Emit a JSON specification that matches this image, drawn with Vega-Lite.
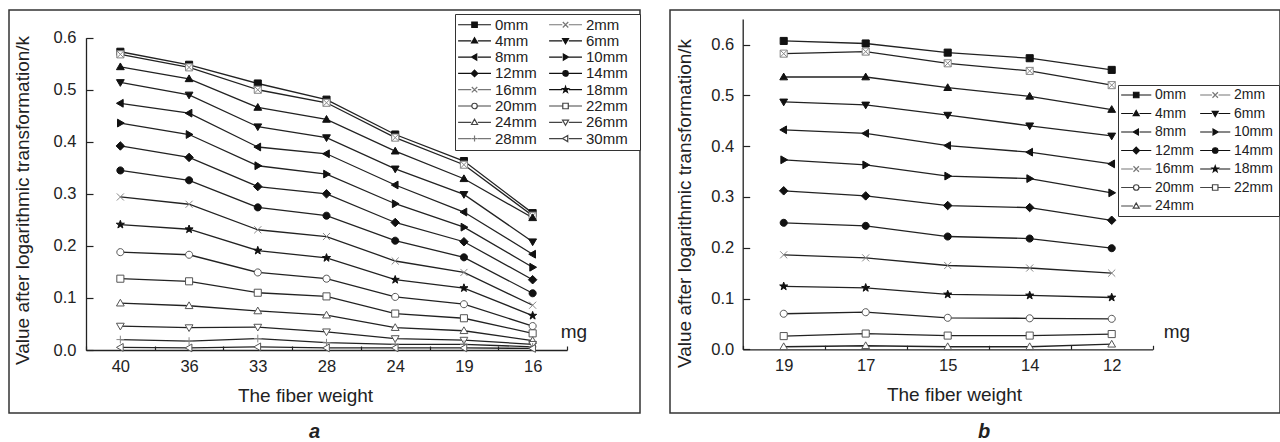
{
 "$schema": "https://vega.github.io/schema/vega-lite/v6.json",
 "padding": {"left": 8, "top": 9, "right": 0, "bottom": 0},
 "autosize": {"type": "pad"},
 "spacing": 30,
 "bounds": "flush",
 "config": {
  "font": "Liberation Sans",
  "view": {"stroke": "#333", "strokeWidth": 1.5},
  "axis": {"domainColor": "#222", "tickColor": "#222", "labelColor": "#222", "titleColor": "#222", "titleFontWeight": "normal", "grid": false, "domainWidth": 1.3, "tickWidth": 1.2, "labelFont": "Liberation Sans", "titleFont": "Liberation Sans"},
  "legend": {"labelFont": "Liberation Sans", "labelColor": "#222"},
  "title": {"font": "Liberation Sans", "color": "#222"}
 },
 "datasets": {
  "A": [
   {"s":"0mm","w":"40","v":0.573},{"s":"0mm","w":"36","v":0.548},{"s":"0mm","w":"33","v":0.512},{"s":"0mm","w":"28","v":0.481},{"s":"0mm","w":"24","v":0.414},{"s":"0mm","w":"19","v":0.363},{"s":"0mm","w":"16","v":0.263},
   {"s":"2mm","w":"40","v":0.568},{"s":"2mm","w":"36","v":0.543},{"s":"2mm","w":"33","v":0.500},{"s":"2mm","w":"28","v":0.475},{"s":"2mm","w":"24","v":0.408},{"s":"2mm","w":"19","v":0.356},{"s":"2mm","w":"16","v":0.258},
   {"s":"4mm","w":"40","v":0.544},{"s":"4mm","w":"36","v":0.521},{"s":"4mm","w":"33","v":0.466},{"s":"4mm","w":"28","v":0.443},{"s":"4mm","w":"24","v":0.382},{"s":"4mm","w":"19","v":0.329},{"s":"4mm","w":"16","v":0.254},
   {"s":"6mm","w":"40","v":0.514},{"s":"6mm","w":"36","v":0.490},{"s":"6mm","w":"33","v":0.429},{"s":"6mm","w":"28","v":0.408},{"s":"6mm","w":"24","v":0.348},{"s":"6mm","w":"19","v":0.299},{"s":"6mm","w":"16","v":0.208},
   {"s":"8mm","w":"40","v":0.474},{"s":"8mm","w":"36","v":0.455},{"s":"8mm","w":"33","v":0.390},{"s":"8mm","w":"28","v":0.377},{"s":"8mm","w":"24","v":0.317},{"s":"8mm","w":"19","v":0.265},{"s":"8mm","w":"16","v":0.184},
   {"s":"10mm","w":"40","v":0.436},{"s":"10mm","w":"36","v":0.414},{"s":"10mm","w":"33","v":0.354},{"s":"10mm","w":"28","v":0.338},{"s":"10mm","w":"24","v":0.281},{"s":"10mm","w":"19","v":0.236},{"s":"10mm","w":"16","v":0.159},
   {"s":"12mm","w":"40","v":0.392},{"s":"12mm","w":"36","v":0.370},{"s":"12mm","w":"33","v":0.314},{"s":"12mm","w":"28","v":0.300},{"s":"12mm","w":"24","v":0.245},{"s":"12mm","w":"19","v":0.208},{"s":"12mm","w":"16","v":0.135},
   {"s":"14mm","w":"40","v":0.345},{"s":"14mm","w":"36","v":0.326},{"s":"14mm","w":"33","v":0.274},{"s":"14mm","w":"28","v":0.258},{"s":"14mm","w":"24","v":0.210},{"s":"14mm","w":"19","v":0.178},{"s":"14mm","w":"16","v":0.109},
   {"s":"16mm","w":"40","v":0.294},{"s":"16mm","w":"36","v":0.280},{"s":"16mm","w":"33","v":0.231},{"s":"16mm","w":"28","v":0.218},{"s":"16mm","w":"24","v":0.171},{"s":"16mm","w":"19","v":0.149},{"s":"16mm","w":"16","v":0.086},
   {"s":"18mm","w":"40","v":0.241},{"s":"18mm","w":"36","v":0.232},{"s":"18mm","w":"33","v":0.191},{"s":"18mm","w":"28","v":0.177},{"s":"18mm","w":"24","v":0.135},{"s":"18mm","w":"19","v":0.119},{"s":"18mm","w":"16","v":0.066},
   {"s":"20mm","w":"40","v":0.188},{"s":"20mm","w":"36","v":0.183},{"s":"20mm","w":"33","v":0.149},{"s":"20mm","w":"28","v":0.137},{"s":"20mm","w":"24","v":0.102},{"s":"20mm","w":"19","v":0.088},{"s":"20mm","w":"16","v":0.046},
   {"s":"22mm","w":"40","v":0.137},{"s":"22mm","w":"36","v":0.132},{"s":"22mm","w":"33","v":0.110},{"s":"22mm","w":"28","v":0.103},{"s":"22mm","w":"24","v":0.070},{"s":"22mm","w":"19","v":0.061},{"s":"22mm","w":"16","v":0.032},
   {"s":"24mm","w":"40","v":0.090},{"s":"24mm","w":"36","v":0.085},{"s":"24mm","w":"33","v":0.075},{"s":"24mm","w":"28","v":0.067},{"s":"24mm","w":"24","v":0.043},{"s":"24mm","w":"19","v":0.037},{"s":"24mm","w":"16","v":0.018},
   {"s":"26mm","w":"40","v":0.046},{"s":"26mm","w":"36","v":0.043},{"s":"26mm","w":"33","v":0.044},{"s":"26mm","w":"28","v":0.035},{"s":"26mm","w":"24","v":0.022},{"s":"26mm","w":"19","v":0.019},{"s":"26mm","w":"16","v":0.011},
   {"s":"28mm","w":"40","v":0.020},{"s":"28mm","w":"36","v":0.017},{"s":"28mm","w":"33","v":0.022},{"s":"28mm","w":"28","v":0.014},{"s":"28mm","w":"24","v":0.011},{"s":"28mm","w":"19","v":0.011},{"s":"28mm","w":"16","v":0.006},
   {"s":"30mm","w":"40","v":0.005},{"s":"30mm","w":"36","v":0.004},{"s":"30mm","w":"33","v":0.006},{"s":"30mm","w":"28","v":0.004},{"s":"30mm","w":"24","v":0.004},{"s":"30mm","w":"19","v":0.004},{"s":"30mm","w":"16","v":0.003}
  ],
  "B": [
   {"s":"0mm","w":"19","v":0.607},{"s":"0mm","w":"17","v":0.602},{"s":"0mm","w":"15","v":0.584},{"s":"0mm","w":"14","v":0.573},{"s":"0mm","w":"12","v":0.550},
   {"s":"2mm","w":"19","v":0.582},{"s":"2mm","w":"17","v":0.586},{"s":"2mm","w":"15","v":0.563},{"s":"2mm","w":"14","v":0.548},{"s":"2mm","w":"12","v":0.520},
   {"s":"4mm","w":"19","v":0.536},{"s":"4mm","w":"17","v":0.536},{"s":"4mm","w":"15","v":0.515},{"s":"4mm","w":"14","v":0.498},{"s":"4mm","w":"12","v":0.472},
   {"s":"6mm","w":"19","v":0.487},{"s":"6mm","w":"17","v":0.481},{"s":"6mm","w":"15","v":0.461},{"s":"6mm","w":"14","v":0.440},{"s":"6mm","w":"12","v":0.420},
   {"s":"8mm","w":"19","v":0.432},{"s":"8mm","w":"17","v":0.425},{"s":"8mm","w":"15","v":0.401},{"s":"8mm","w":"14","v":0.388},{"s":"8mm","w":"12","v":0.365},
   {"s":"10mm","w":"19","v":0.373},{"s":"10mm","w":"17","v":0.363},{"s":"10mm","w":"15","v":0.341},{"s":"10mm","w":"14","v":0.336},{"s":"10mm","w":"12","v":0.308},
   {"s":"12mm","w":"19","v":0.312},{"s":"12mm","w":"17","v":0.302},{"s":"12mm","w":"15","v":0.283},{"s":"12mm","w":"14","v":0.279},{"s":"12mm","w":"12","v":0.254},
   {"s":"14mm","w":"19","v":0.249},{"s":"14mm","w":"17","v":0.243},{"s":"14mm","w":"15","v":0.222},{"s":"14mm","w":"14","v":0.218},{"s":"14mm","w":"12","v":0.199},
   {"s":"16mm","w":"19","v":0.186},{"s":"16mm","w":"17","v":0.180},{"s":"16mm","w":"15","v":0.165},{"s":"16mm","w":"14","v":0.160},{"s":"16mm","w":"12","v":0.150},
   {"s":"18mm","w":"19","v":0.124},{"s":"18mm","w":"17","v":0.121},{"s":"18mm","w":"15","v":0.108},{"s":"18mm","w":"14","v":0.106},{"s":"18mm","w":"12","v":0.102},
   {"s":"20mm","w":"19","v":0.070},{"s":"20mm","w":"17","v":0.073},{"s":"20mm","w":"15","v":0.062},{"s":"20mm","w":"14","v":0.061},{"s":"20mm","w":"12","v":0.060},
   {"s":"22mm","w":"19","v":0.026},{"s":"22mm","w":"17","v":0.031},{"s":"22mm","w":"15","v":0.027},{"s":"22mm","w":"14","v":0.027},{"s":"22mm","w":"12","v":0.030},
   {"s":"24mm","w":"19","v":0.005},{"s":"24mm","w":"17","v":0.007},{"s":"24mm","w":"15","v":0.005},{"s":"24mm","w":"14","v":0.005},{"s":"24mm","w":"12","v":0.010}
  ]
 },
 "hconcat": [
  {
   "width": 631, "height": 403,
   "title": {"text": "a", "orient": "bottom", "anchor": "middle", "fontStyle": "italic", "fontWeight": "bold", "fontSize": 20, "offset": 9, "dx": -10},
   "data": {"name": "A"},
   "layer": [
    {
     "mark": {"type": "line", "color": "#222", "strokeWidth": 1.3},
     "encoding": {
      "x": {"field": "w", "type": "nominal", "scale": {"type": "band", "domain": ["40","36","33","28","24","19","16"], "range": [77, 558], "paddingInner": 0, "paddingOuter": 0},
        "axis": {"orient": "bottom", "offset": -63, "title": "The fiber weight", "titleFontSize": 19, "titleX": 296, "titlePadding": 12, "labelFontSize": 16.5, "labelAngle": 0, "labelPadding": 12, "tickBand": "extent", "tickSize": -4}},
      "y": {"field": "v", "type": "quantitative", "scale": {"domain": [0, 0.6], "range": [340, 27.7], "nice": false, "zero": true},
        "axis": {"orient": "left", "offset": -77, "values": [0,0.05,0.1,0.15,0.2,0.25,0.3,0.35,0.4,0.45,0.5,0.55,0.6], "labelExpr": "round(datum.value*100) % 10 == 0 ? format(datum.value, '.1f') : ''", "tickSize": {"condition": {"test": "round(datum.value*100) % 10 != 0", "value": -3}, "value": -7}, "labelFontSize": 16.5, "labelPadding": 17, "title": "Value after logarithmic transformation/k", "titleFontSize": 19, "titlePadding": 21, "titleY": 190}},
      "detail": {"field": "s"}
     }
    },
    {
     "mark": {"type": "point", "size": 50, "opacity": 1, "strokeWidth": 1},
     "encoding": {
      "x": {"field": "w", "type": "nominal"},
      "y": {"field": "v", "type": "quantitative"},
      "shape": {"field": "s", "type": "nominal", "legend": null, "scale": {"domain": ["0mm","2mm","4mm","6mm","8mm","10mm","12mm","14mm","16mm","18mm","20mm","22mm","24mm","26mm","28mm","30mm"], "range": ["M-1,-1L1,-1L1,1L-1,1Z","M-1,-1L1,-1L1,1L-1,1ZM-1,-1L1,1M1,-1L-1,1","M0,-1.1L1.1,0.8L-1.1,0.8Z","M0,1.1L1.1,-0.8L-1.1,-0.8Z","M-1.1,0L0.8,-1.1L0.8,1.1Z","M1.1,0L-0.8,-1.1L-0.8,1.1Z","M0,-1.2L1.2,0L0,1.2L-1.2,0Z","M1,0A1,1,0,1,1,-1,0A1,1,0,1,1,1,0Z","M-1,-1L1,1M1,-1L-1,1","M0,-1.2L0.282,-0.389L1.141,-0.371L0.456,0.149L0.706,0.971L0,0.48L-0.706,0.971L-0.456,0.149L-1.141,-0.371L-0.282,-0.389Z","M1,0A1,1,0,1,1,-1,0A1,1,0,1,1,1,0Z","M-1,-1L1,-1L1,1L-1,1Z","M0,-1.1L1.1,0.8L-1.1,0.8Z","M0,1.1L1.1,-0.8L-1.1,-0.8Z","M-1.1,0L1.1,0M0,-1.1L0,1.1","M-1.1,0L0.8,-1.1L0.8,1.1Z"]}},
      "fill": {"field": "s", "type": "nominal", "legend": null, "scale": {"domain": ["0mm","2mm","4mm","6mm","8mm","10mm","12mm","14mm","16mm","18mm","20mm","22mm","24mm","26mm","28mm","30mm"], "range": ["#111","#fff","#111","#111","#111","#111","#111","#111","#fff","#111","#fff","#fff","#fff","#fff","#fff","#fff"]}},
      "stroke": {"field": "s", "type": "nominal", "legend": null, "scale": {"domain": ["0mm","2mm","4mm","6mm","8mm","10mm","12mm","14mm","16mm","18mm","20mm","22mm","24mm","26mm","28mm","30mm"], "range": ["#111","#888","#111","#111","#111","#111","#111","#111","#888","#111","#555","#555","#555","#555","#888","#555"]}}
     }
    },
    {
     "transform": [{"filter": "datum.v < 0"}],
     "mark": {"type": "point", "size": 30, "opacity": 1, "strokeWidth": 1.2},
     "encoding": {
      "x": {"field": "w", "type": "nominal"},
      "y": {"field": "v", "type": "quantitative"},
      "shape": {"field": "s", "type": "nominal", "legend": {"title": null, "orient": "none", "direction": "vertical", "legendX": 446, "legendY": 4, "columns": 2, "columnPadding": 0, "rowPadding": 0.3, "labelFontSize": 15, "symbolSize": 30, "symbolStrokeWidth": 1.2, "labelOffset": 22, "padding": 3, "strokeColor": "#333", "fillColor": "#fff"},
        "scale": {"domain": ["0mm","4mm","8mm","12mm","16mm","20mm","24mm","28mm","2mm","6mm","10mm","14mm","18mm","22mm","26mm","30mm"], "range": [
          "M-2.7,0L2.1,0M4.5,0L9.3,0M2.3,-1L4.3,-1L4.3,1L2.3,1ZM28.2,0",
          "M-2.7,0L2.1,0M4.5,0L9.3,0M3.3,-1.1L4.4,0.8L2.2,0.8ZM28.2,0",
          "M-2.7,0L2.1,0M4.5,0L9.3,0M2.2,0L4.1,-1.1L4.1,1.1ZM28.2,0",
          "M-2.7,0L2.1,0M4.5,0L9.3,0M3.3,-1.2L4.5,0L3.3,1.2L2.1,0ZM28.2,0",
          "M-2.7,0L2.1,0M4.5,0L9.3,0M2.3,-1L4.3,1M4.3,-1L2.3,1M28.2,0",
          "M-2.7,0L2.1,0M4.5,0L9.3,0M4.3,0A1,1,0,1,1,2.3,0A1,1,0,1,1,4.3,0ZM28.2,0",
          "M-2.7,0L2.1,0M4.5,0L9.3,0M3.3,-1.1L4.4,0.8L2.2,0.8ZM28.2,0",
          "M-2.7,0L2.1,0M4.5,0L9.3,0M2.2,0L4.4,0M3.3,-1.1L3.3,1.1M28.2,0",
          "M-2.7,0L2.1,0M4.5,0L9.3,0M2.3,-1L4.3,1M4.3,-1L2.3,1M28.2,0",
          "M-2.7,0L2.1,0M4.5,0L9.3,0M3.3,1.1L4.4,-0.8L2.2,-0.8ZM28.2,0",
          "M-2.7,0L2.1,0M4.5,0L9.3,0M4.4,0L2.5,-1.1L2.5,1.1ZM28.2,0",
          "M-2.7,0L2.1,0M4.5,0L9.3,0M4.3,0A1,1,0,1,1,2.3,0A1,1,0,1,1,4.3,0ZM28.2,0",
          "M-2.7,0L2.1,0M4.5,0L9.3,0M3.3,-1.2L3.582,-0.389L4.441,-0.371L3.756,0.149L4.006,0.971L3.3,0.48L2.594,0.971L2.844,0.149L2.159,-0.371L3.018,-0.389ZM28.2,0",
          "M-2.7,0L2.1,0M4.5,0L9.3,0M2.3,-1L4.3,-1L4.3,1L2.3,1ZM28.2,0",
          "M-2.7,0L2.1,0M4.5,0L9.3,0M3.3,1.1L4.4,-0.8L2.2,-0.8ZM28.2,0",
          "M-2.7,0L2.1,0M4.5,0L9.3,0M2.2,0L4.1,-1.1L4.1,1.1ZM28.2,0"]}},
      "fill": {"field": "s", "type": "nominal", "legend": {"title": null, "orient": "none", "direction": "vertical", "legendX": 446, "legendY": 4, "columns": 2, "columnPadding": 0, "rowPadding": 0.3, "labelFontSize": 15, "symbolSize": 30, "symbolStrokeWidth": 1.2, "labelOffset": 22, "padding": 3, "strokeColor": "#333", "fillColor": "#fff"},
        "scale": {"domain": ["0mm","4mm","8mm","12mm","16mm","20mm","24mm","28mm","2mm","6mm","10mm","14mm","18mm","22mm","26mm","30mm"], "range": ["#111","#111","#111","#111","#fff","#fff","#fff","#fff","#fff","#111","#111","#111","#111","#fff","#fff","#fff"]}},
      "stroke": {"field": "s", "type": "nominal", "legend": {"title": null, "orient": "none", "direction": "vertical", "legendX": 446, "legendY": 4, "columns": 2, "columnPadding": 0, "rowPadding": 0.3, "labelFontSize": 15, "symbolSize": 30, "symbolStrokeWidth": 1.2, "labelOffset": 22, "padding": 3, "strokeColor": "#333", "fillColor": "#fff"},
        "scale": {"domain": ["0mm","4mm","8mm","12mm","16mm","20mm","24mm","28mm","2mm","6mm","10mm","14mm","18mm","22mm","26mm","30mm"], "range": ["#111","#111","#111","#111","#777","#444","#444","#777","#777","#111","#111","#111","#111","#444","#444","#444"]}}
     }
    },
    {
     "data": {"values": [{"t": "mg"}]},
     "mark": {"type": "text", "align": "left", "baseline": "middle", "dx": 28, "fontSize": 19, "color": "#222"},
     "encoding": {
      "x": {"datum": "16", "type": "nominal"},
      "y": {"datum": 0.035, "type": "quantitative"},
      "text": {"field": "t"}
     }
    }
   ],
   "resolve": {"scale": {"shape": "independent", "fill": "independent", "stroke": "independent"}}
  },
  {
   "width": 610, "height": 403,
   "title": {"text": "b", "orient": "bottom", "anchor": "middle", "fontStyle": "italic", "fontWeight": "bold", "fontSize": 20, "offset": 9, "dx": 9},
   "data": {"name": "B"},
   "layer": [
    {
     "mark": {"type": "line", "color": "#222", "strokeWidth": 1.3},
     "encoding": {
      "x": {"field": "w", "type": "nominal", "scale": {"type": "band", "domain": ["19","17","15","14","12"], "range": [72.7, 482.7], "paddingInner": 0, "paddingOuter": 0},
        "axis": {"orient": "bottom", "offset": -63.7, "title": "The fiber weight", "titleFontSize": 19, "titleX": 284, "titlePadding": 12, "labelFontSize": 16.5, "labelAngle": 0, "labelPadding": 12, "tickBand": "extent", "tickSize": -4}},
      "y": {"field": "v", "type": "quantitative", "scale": {"domain": [0, 0.65], "range": [339.3, 9.1], "nice": false, "zero": true},
        "axis": {"orient": "left", "offset": -72.7, "values": [0,0.05,0.1,0.15,0.2,0.25,0.3,0.35,0.4,0.45,0.5,0.55,0.6,0.65], "labelExpr": "round(datum.value*100) % 10 == 0 ? format(datum.value, '.1f') : ''", "tickSize": {"condition": {"test": "round(datum.value*100) % 10 != 0", "value": -3}, "value": -7}, "labelFontSize": 16.5, "labelPadding": 16, "title": "Value after logarithmic transformation/k", "titleFontSize": 19, "titlePadding": 16, "titleY": 193}},
      "detail": {"field": "s"}
     }
    },
    {
     "mark": {"type": "point", "size": 50, "opacity": 1, "strokeWidth": 1},
     "encoding": {
      "x": {"field": "w", "type": "nominal"},
      "y": {"field": "v", "type": "quantitative"},
      "shape": {"field": "s", "type": "nominal", "legend": null, "scale": {"domain": ["0mm","2mm","4mm","6mm","8mm","10mm","12mm","14mm","16mm","18mm","20mm","22mm","24mm"], "range": ["M-1,-1L1,-1L1,1L-1,1Z","M-1,-1L1,-1L1,1L-1,1ZM-1,-1L1,1M1,-1L-1,1","M0,-1.1L1.1,0.8L-1.1,0.8Z","M0,1.1L1.1,-0.8L-1.1,-0.8Z","M-1.1,0L0.8,-1.1L0.8,1.1Z","M1.1,0L-0.8,-1.1L-0.8,1.1Z","M0,-1.2L1.2,0L0,1.2L-1.2,0Z","M1,0A1,1,0,1,1,-1,0A1,1,0,1,1,1,0Z","M-1,-1L1,1M1,-1L-1,1","M0,-1.2L0.282,-0.389L1.141,-0.371L0.456,0.149L0.706,0.971L0,0.48L-0.706,0.971L-0.456,0.149L-1.141,-0.371L-0.282,-0.389Z","M1,0A1,1,0,1,1,-1,0A1,1,0,1,1,1,0Z","M-1,-1L1,-1L1,1L-1,1Z","M0,-1.1L1.1,0.8L-1.1,0.8Z"]}},
      "fill": {"field": "s", "type": "nominal", "legend": null, "scale": {"domain": ["0mm","2mm","4mm","6mm","8mm","10mm","12mm","14mm","16mm","18mm","20mm","22mm","24mm"], "range": ["#111","#fff","#111","#111","#111","#111","#111","#111","#fff","#111","#fff","#fff","#fff"]}},
      "stroke": {"field": "s", "type": "nominal", "legend": null, "scale": {"domain": ["0mm","2mm","4mm","6mm","8mm","10mm","12mm","14mm","16mm","18mm","20mm","22mm","24mm"], "range": ["#111","#888","#111","#111","#111","#111","#111","#111","#888","#111","#555","#555","#555"]}}
     }
    },
    {
     "transform": [{"filter": "datum.v < 0"}],
     "mark": {"type": "point", "size": 30, "opacity": 1, "strokeWidth": 1.2},
     "encoding": {
      "x": {"field": "w", "type": "nominal"},
      "y": {"field": "v", "type": "quantitative"},
      "shape": {"field": "s", "type": "nominal", "legend": {"title": null, "orient": "none", "direction": "vertical", "legendX": 448, "legendY": 75, "columns": 2, "columnPadding": 0, "rowPadding": 4.5, "labelFontSize": 14, "symbolSize": 30, "symbolStrokeWidth": 1.2, "labelOffset": 20, "padding": 3, "strokeColor": "#333", "fillColor": "#fff"},
        "scale": {"domain": ["0mm","4mm","8mm","12mm","16mm","20mm","24mm","2mm","6mm","10mm","14mm","18mm","22mm"], "range": [
          "M-2.5,0L1.8,0M4.2,0L8.5,0M2,-1L4,-1L4,1L2,1ZM24,0",
          "M-2.5,0L1.8,0M4.2,0L8.5,0M3,-1.1L4.1,0.8L1.9,0.8ZM24,0",
          "M-2.5,0L1.8,0M4.2,0L8.5,0M1.9,0L3.8,-1.1L3.8,1.1ZM24,0",
          "M-2.5,0L1.8,0M4.2,0L8.5,0M3,-1.2L4.2,0L3,1.2L1.8,0ZM24,0",
          "M-2.5,0L1.8,0M4.2,0L8.5,0M2,-1L4,1M4,-1L2,1M24,0",
          "M-2.5,0L1.8,0M4.2,0L8.5,0M4,0A1,1,0,1,1,2,0A1,1,0,1,1,4,0ZM24,0",
          "M-2.5,0L1.8,0M4.2,0L8.5,0M3,-1.1L4.1,0.8L1.9,0.8ZM24,0",
          "M-2.5,0L1.8,0M4.2,0L8.5,0M2,-1L4,1M4,-1L2,1M24,0",
          "M-2.5,0L1.8,0M4.2,0L8.5,0M3,1.1L4.1,-0.8L1.9,-0.8ZM24,0",
          "M-2.5,0L1.8,0M4.2,0L8.5,0M4.1,0L2.2,-1.1L2.2,1.1ZM24,0",
          "M-2.5,0L1.8,0M4.2,0L8.5,0M4,0A1,1,0,1,1,2,0A1,1,0,1,1,4,0ZM24,0",
          "M-2.5,0L1.8,0M4.2,0L8.5,0M3,-1.2L3.282,-0.389L4.141,-0.371L3.456,0.149L3.706,0.971L3,0.48L2.294,0.971L2.544,0.149L1.859,-0.371L2.718,-0.389ZM24,0",
          "M-2.5,0L1.8,0M4.2,0L8.5,0M2,-1L4,-1L4,1L2,1ZM24,0"]}},
      "fill": {"field": "s", "type": "nominal", "legend": {"title": null, "orient": "none", "direction": "vertical", "legendX": 448, "legendY": 75, "columns": 2, "columnPadding": 0, "rowPadding": 4.5, "labelFontSize": 14, "symbolSize": 30, "symbolStrokeWidth": 1.2, "labelOffset": 20, "padding": 3, "strokeColor": "#333", "fillColor": "#fff"},
        "scale": {"domain": ["0mm","4mm","8mm","12mm","16mm","20mm","24mm","2mm","6mm","10mm","14mm","18mm","22mm"], "range": ["#111","#111","#111","#111","#fff","#fff","#fff","#fff","#111","#111","#111","#111","#fff"]}},
      "stroke": {"field": "s", "type": "nominal", "legend": {"title": null, "orient": "none", "direction": "vertical", "legendX": 448, "legendY": 75, "columns": 2, "columnPadding": 0, "rowPadding": 4.5, "labelFontSize": 14, "symbolSize": 30, "symbolStrokeWidth": 1.2, "labelOffset": 20, "padding": 3, "strokeColor": "#333", "fillColor": "#fff"},
        "scale": {"domain": ["0mm","4mm","8mm","12mm","16mm","20mm","24mm","2mm","6mm","10mm","14mm","18mm","22mm"], "range": ["#111","#111","#111","#111","#777","#444","#444","#777","#111","#111","#111","#111","#444"]}}
     }
    },
    {
     "data": {"values": [{"t": "mg"}]},
     "mark": {"type": "text", "align": "left", "baseline": "middle", "dx": 52, "fontSize": 19, "color": "#222"},
     "encoding": {
      "x": {"datum": "12", "type": "nominal"},
      "y": {"datum": 0.034, "type": "quantitative"},
      "text": {"field": "t"}
     }
    }
   ],
   "resolve": {"scale": {"shape": "independent", "fill": "independent", "stroke": "independent"}}
  }
 ]
}
